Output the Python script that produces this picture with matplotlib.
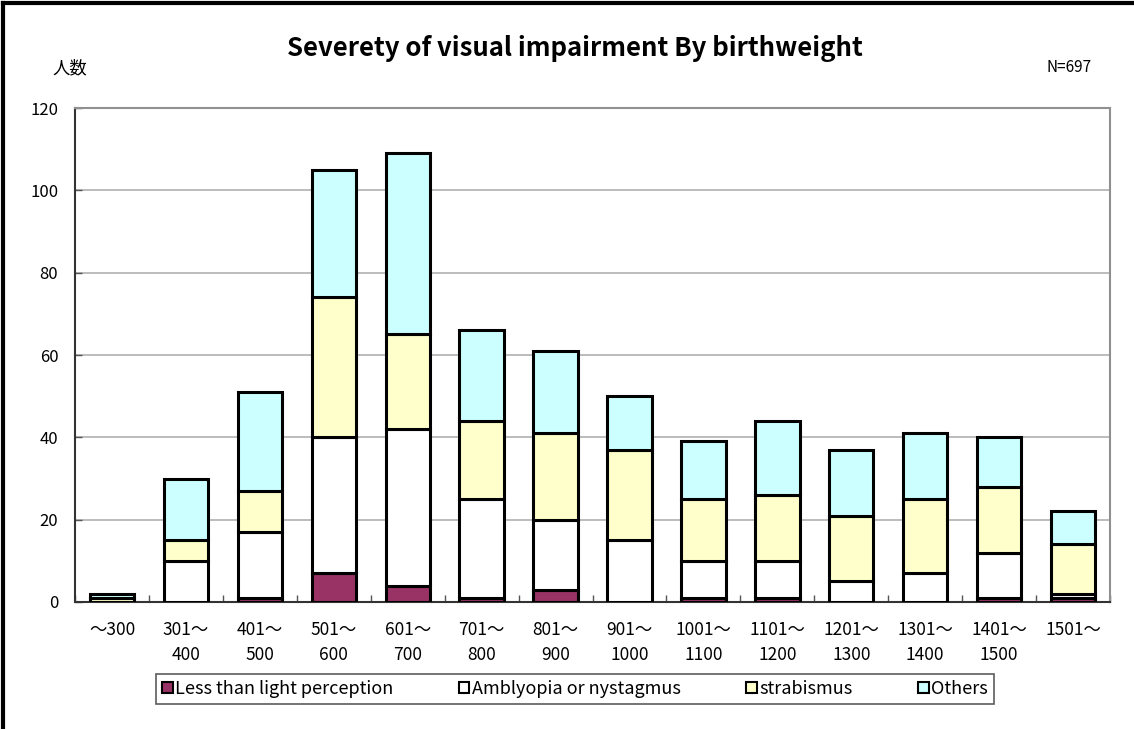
import matplotlib
matplotlib.use("Agg")
import matplotlib.pyplot as plt
from matplotlib.lines import Line2D
from matplotlib.patches import Patch
import numpy as np

plt.rcParams['font.family'] = ['Noto Sans CJK JP', 'DejaVu Sans']

categories = ["～300", "301～\n400", "401～\n500", "501～\n600", "601～\n700", "701～\n800",
              "801～\n900", "901～\n1000", "1001～\n1100", "1101～\n1200", "1201～\n1300",
              "1301～\n1400", "1401～\n1500", "1501～"]
less_than_light = [0, 0, 1, 7, 4, 1, 3, 0, 1, 1, 0, 0, 1, 1]
amblyopia = [0, 10, 16, 33, 38, 24, 17, 15, 9, 9, 5, 7, 11, 1]
strabismus = [1, 5, 10, 34, 23, 19, 21, 22, 15, 16, 16, 18, 16, 12]
others = [1, 15, 24, 31, 44, 22, 20, 13, 14, 18, 16, 16, 12, 8]
series_names = ["Less than light perception", "Amblyopia or nystagmus", "strabismus", "Others"]
series_colors = ["#993366", "#FFFFFF", "#FFFFCC", "#CCFFFF"]
y_ticks = [0, 20, 40, 60, 80, 100, 120]

fig = plt.figure(figsize=(11.34, 7.29), dpi=100)
ax = fig.add_axes([75/1134, 1-602/729, (1110-75)/1134, (602-108)/729])

x = np.arange(len(categories))
bottom = np.zeros(len(categories))
for vals, col in zip([less_than_light, amblyopia, strabismus, others], series_colors):
    vals = np.array(vals, dtype=float)
    ax.bar(x, vals, bottom=bottom, width=0.6, color=col, edgecolor='black', linewidth=2.2, zorder=3)
    bottom += vals

ax.set_xlim(-0.5, len(categories) - 0.5)
ax.set_ylim(0, 120)
ax.set_yticks(y_ticks)
ax.set_yticklabels([str(v) for v in y_ticks], fontsize=12)
ax.yaxis.grid(True, color='#b0b0b0', linewidth=1.2, zorder=0)
ax.set_axisbelow(True)
ax.set_xticks(x)
ax.set_xticklabels(categories, fontsize=12.5, linespacing=1.5)
ax.set_xticks(np.arange(-0.5, len(categories) + 0.5, 1), minor=True)
ax.tick_params(axis='x', which='major', length=0, pad=14)
ax.tick_params(axis='x', which='minor', direction='in', length=5, width=1, color='#555555')
ax.tick_params(axis='y', direction='in', length=5, width=1, color='#555555', pad=12)

for s in ['top', 'right']:
    ax.spines[s].set_color('#909090')
    ax.spines[s].set_linewidth(1.5)
for s in ['left', 'bottom']:
    ax.spines[s].set_color('#333333')
    ax.spines[s].set_linewidth(1.5)

fig.text(575/1134, 1-48/729, "Severety of visual impairment By birthweight", ha='center', va='center',
         fontsize=18.5, fontweight='bold')
fig.text(52/1134, 1-68/729, "人数", ha='left', va='center', fontsize=12.5)
fig.text(1092/1134, 1-68/729, "N=697", ha='right', va='center', fontsize=11)

handles = [Patch(facecolor=c, edgecolor='black', linewidth=1.5) for c in series_colors]
leg = fig.legend(handles, series_names, loc='center', bbox_to_anchor=(575/1134, 1-689/729), ncol=4,
                 fontsize=13, frameon=True, fancybox=False, handlelength=0.6, handleheight=0.6,
                 handletextpad=0.15, columnspacing=3.6, borderpad=0.35, borderaxespad=0)
leg.get_frame().set_edgecolor('#333333')
leg.get_frame().set_linewidth(1.2)

fig.add_artist(Line2D([3/1134, 3/1134], [0, 1-3/729], color='black', linewidth=3, transform=fig.transFigure))
fig.add_artist(Line2D([3/1134, 1], [1-3/729, 1-3/729], color='black', linewidth=3, transform=fig.transFigure))

fig.savefig("out.png", dpi=100)
